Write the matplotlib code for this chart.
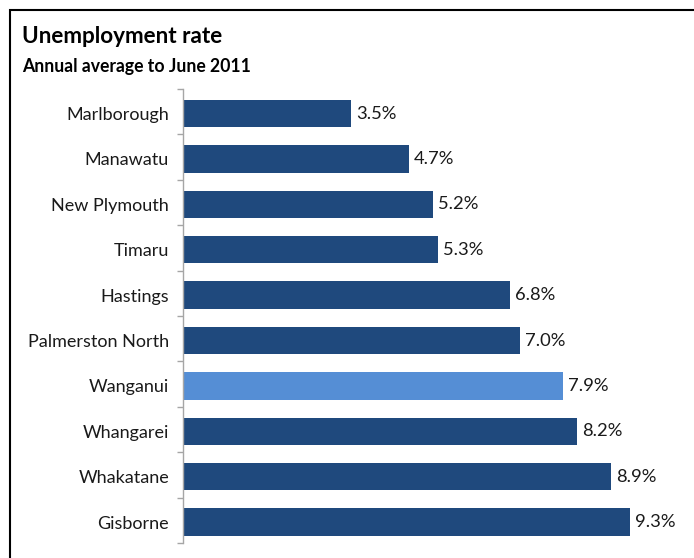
import numpy as np
import matplotlib.pyplot as plt
from matplotlib.patches import Rectangle

# Unemployment rate by district, annual average to June 2011
districts = ["Marlborough", "Manawatu", "New Plymouth", "Timaru", "Hastings",
             "Palmerston North", "Wanganui", "Whangarei", "Whakatane", "Gisborne"]
rates = [3.5, 4.7, 5.2, 5.3, 6.8, 7.0, 7.9, 8.2, 8.9, 9.3]
highlight = "Wanganui"

dark = "#1F497D"
light = "#558ED5"
font = ["Lato", "DejaVu Sans"]

fig = plt.figure(figsize=(6.94, 5.58), dpi=100)

# black frame round the chart (runs off the right and bottom edges)
fig.patches.append(Rectangle((10 / 694, -0.1), 1.2, 1 - 10 / 558 + 0.1,
                             transform=fig.transFigure, fill=False,
                             edgecolor="black", linewidth=1.5))

ax = fig.add_axes([183 / 694, 1 - 543 / 558, 481 / 694, 454 / 558])

y = np.arange(len(districts))
colors = [light if d == highlight else dark for d in districts]
bars = ax.barh(y + 0.04, rates, height=0.6, color=colors)

for b, r in zip(bars, rates):
    ax.text(b.get_width() + 0.1, b.get_y() + b.get_height() / 2, f"{r:.1f}%",
            va="center", ha="left", fontsize=13.2, family=font, color="#1a1a1a")

ax.set_xlim(0, 10)
ax.set_ylim(len(districts) - 0.5, -0.5)
ax.set_yticks(y + 0.04)
ax.set_yticklabels(districts, fontsize=13, family=font, color="#1a1a1a")
ax.set_yticks(np.arange(len(districts) + 1) - 0.5, minor=True)
ax.tick_params(axis="y", which="major", length=0, pad=10)
ax.tick_params(axis="y", which="minor", length=4, width=1, color="#A6A6A6")
ax.set_xticks([])

for s in ["top", "right", "bottom"]:
    ax.spines[s].set_visible(False)
ax.spines["left"].set_color("#A6A6A6")
ax.spines["left"].set_linewidth(1)

fig.text(22 / 694, 1 - 43 / 558, "Unemployment rate", fontsize=16.2,
         fontweight="bold", family=font, ha="left", va="baseline")
fig.text(22 / 694, 1 - 72 / 558, "Annual average to June 2011", fontsize=12.7,
         fontweight="bold", family=font, ha="left", va="baseline")

fig.savefig("out.png", dpi=100)
